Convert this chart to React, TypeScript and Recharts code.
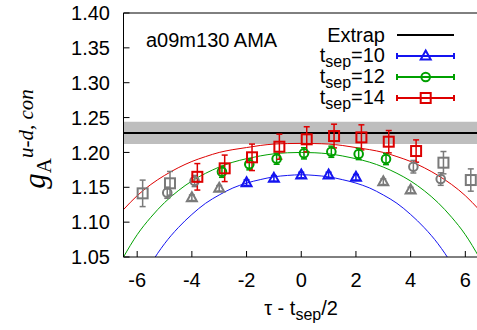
import React from 'react';
import {
  ComposedChart, Line, Scatter, XAxis, YAxis, ErrorBar,
  ReferenceArea, ReferenceLine, Legend, Customized,
} from 'recharts';

// ---------- data ----------
const xTicks = [-6, -4, -2, 0, 2, 4, 6];
const yTicks = [1.05, 1.1, 1.15, 1.2, 1.25, 1.3, 1.35, 1.4];

const extrapValue = 1.228;
const extrapErr = 0.016;

// t_sep = 10 (fit region and excluded points)
const t10X = [-2, -1, 0, 1, 2];
const t10Y = [1.1566, 1.1628, 1.1676, 1.1676, 1.1643];
const t10E = [0.004, 0.004, 0.004, 0.004, 0.004];
const t10GrayX = [-4, -3, 3, 4];
const t10GrayY = [1.135, 1.1485, 1.158, 1.146];
const t10GrayE = [0.004, 0.004, 0.004, 0.004];

// t_sep = 12
const t12X = [-2.9, -1.9, -0.9, 0.1, 1.1, 2.1, 3.1];
const t12Y = [1.1723, 1.183, 1.191, 1.1987, 1.201, 1.1977, 1.1905];
const t12E = [0.008, 0.008, 0.008, 0.008, 0.008, 0.008, 0.008];
const t12GrayX = [-4.9, -3.9, 4.1, 5.1];
const t12GrayY = [1.1422, 1.159, 1.1795, 1.1618];
const t12GrayE = [0.008, 0.008, 0.009, 0.009];

// t_sep = 14
const t14X = [-3.8, -2.8, -1.8, -0.8, 0.2, 1.2, 2.2, 3.2, 4.2];
const t14Y = [1.165, 1.1772, 1.193, 1.2082, 1.2188, 1.2235, 1.2216, 1.2154, 1.202];
const t14E = [0.019, 0.019, 0.019, 0.018, 0.018, 0.017, 0.018, 0.016, 0.016];
const t14GrayX = [-5.8, -4.8, 5.2, 6.2];
const t14GrayY = [1.1413, 1.1557, 1.1853, 1.1604];
const t14GrayE = [0.019, 0.017, 0.016, 0.016];

// fit curves
const fitX = [-6.5, -6, -5.5, -5, -4.5, -4, -3.5, -3, -2.5, -2, -1.5, -1, -0.5, 0,
  0.5, 1, 1.5, 2, 2.5, 3, 3.5, 4, 4.5, 5, 5.5, 6, 6.5];
const fit10 = [0.960, 1.004, 1.040, 1.069, 1.092, 1.111, 1.127, 1.139, 1.149, 1.156, 1.161, 1.165, 1.167, 1.168,
  1.167, 1.165, 1.161, 1.156, 1.149, 1.139, 1.127, 1.111, 1.092, 1.069, 1.040, 1.004, 0.960];
const fit12 = [1.050, 1.082, 1.107, 1.128, 1.145, 1.159, 1.170, 1.179, 1.186, 1.191, 1.195, 1.198, 1.1995, 1.200,
  1.1995, 1.198, 1.195, 1.191, 1.186, 1.179, 1.170, 1.159, 1.145, 1.128, 1.107, 1.082, 1.050];
const fit14 = [1.118, 1.138, 1.154, 1.167, 1.178, 1.187, 1.194, 1.200, 1.204, 1.207, 1.210, 1.212, 1.2127, 1.213,
  1.2127, 1.212, 1.210, 1.207, 1.204, 1.200, 1.194, 1.187, 1.178, 1.167, 1.154, 1.138, 1.118];

// ---------- helpers ----------
const pts = (xs: number[], ys: number[], es: number[]) =>
  xs.map((x, i) => ({ x, y: ys[i], err: es[i] }));
const curve = (xs: number[], ys: number[]) => xs.map((x, i) => ({ x, y: ys[i] }));

const BLUE = '#1414f0';
const GREEN = '#00a000';
const RED = '#dd0000';
const GRAY = '#7a7a7a';
const FONT = 'Liberation Sans, Arial, Helvetica, sans-serif';

const triangle = (color: string) => (p: any) => {
  const { cx, cy } = p;
  return (
    <polygon
      points={`${cx},${cy - 5.5} ${cx + 5},${cy + 3.5} ${cx - 5},${cy + 3.5}`}
      fill="none" stroke={color} strokeWidth={2}
    />
  );
};
const circle = (color: string) => (p: any) => {
  const { cx, cy } = p;
  return <circle cx={cx} cy={cy} r={4.3} fill="none" stroke={color} strokeWidth={2} />;
};
const square = (color: string) => (p: any) => {
  const { cx, cy } = p;
  return <rect x={cx - 5} y={cy - 5} width={10} height={10} fill="none" stroke={color} strokeWidth={2} />;
};

const legendRows = [
  { label: '10', color: BLUE, marker: 'tri' },
  { label: '12', color: GREEN, marker: 'circ' },
  { label: '14', color: RED, marker: 'sq' },
];

const LegendContent = () => {
  const lx1 = 117, lx2 = 174, mx = 145.7;
  return (
    <svg width={190} height={95} style={{ display: 'block', overflow: 'visible' }}>
      <text x={105} y={22} textAnchor="end" fontSize={20} fontFamily={FONT} fill="#000">Extrap</text>
      <line x1={lx1} x2={lx2} y1={15} y2={15} stroke="#000" strokeWidth={2} />
      {legendRows.map((r, i) => {
        const base = 42 + i * 21;
        const sy = base - 6;
        return (
          <g key={r.label}>
            <text x={105} y={base} textAnchor="end" fontSize={20} fontFamily={FONT} fill="#000">
              t<tspan fontSize={16} dy={5}>sep</tspan><tspan dy={-5}>={r.label}</tspan>
            </text>
            <line x1={lx1} x2={lx2} y1={sy} y2={sy} stroke={r.color} strokeWidth={2} />
            <line x1={lx1} x2={lx1} y1={sy - 3} y2={sy + 3} stroke={r.color} strokeWidth={2} />
            <line x1={lx2} x2={lx2} y1={sy - 3} y2={sy + 3} stroke={r.color} strokeWidth={2} />
            {r.marker === 'tri' && triangle(r.color)({ cx: mx, cy: sy })}
            {r.marker === 'circ' && circle(r.color)({ cx: mx, cy: sy })}
            {r.marker === 'sq' && square(r.color)({ cx: mx, cy: sy })}
          </g>
        );
      })}
    </svg>
  );
};

const Labels = () => (
  <g>
    <text x={146} y={47} fontSize={20} fontFamily={FONT} fill="#000">a09m130 AMA</text>
    <text x={301} y={315} textAnchor="middle" fontSize={20} fontFamily={FONT} fill="#000">
      τ - t<tspan fontSize={16} dy={5}>sep</tspan><tspan dy={-5}>/2</tspan>
    </text>
    <text
      transform="translate(45,139) rotate(-90)" x={0} y={0} textAnchor="middle"
      fontFamily="Liberation Serif, Times New Roman, serif" fill="#000"
    >
      <tspan fontStyle="italic" fontSize={31}>g</tspan>
      <tspan fontSize={21} dy={6}>A</tspan>
      <tspan fontStyle="italic" fontSize={21} dy={-18}>u-d, con</tspan>
    </text>
  </g>
);

export default function App() {
  const tickStyle = { fontSize: 20, fill: '#000', fontFamily: FONT };
  return (
    <div style={{ position: 'absolute', left: 0, top: 0, width: 477, height: 330, overflow: 'hidden', background: '#fff' }}>
      <ComposedChart width={490} height={330} margin={{ top: 12, right: 10, bottom: 0, left: 0.5 }}>
        <XAxis
          dataKey="x" type="number" domain={[-6.5, 6.5]} allowDataOverflow ticks={xTicks}
          height={73} tick={tickStyle} tickSize={-6} tickMargin={22}
          axisLine={{ stroke: '#000' }} tickLine={{ stroke: '#000' }}
        />
        <XAxis
          xAxisId="t" orientation="top" type="number" domain={[-6.5, 6.5]} allowDataOverflow ticks={xTicks}
          height={1} tick={false} tickSize={-6}
          axisLine={{ stroke: '#000' }} tickLine={{ stroke: '#000' }}
        />
        <YAxis
          dataKey="y" type="number" domain={[1.05, 1.4]} allowDataOverflow ticks={yTicks}
          width={123} tick={tickStyle} tickSize={-6} tickMargin={19.5}
          tickFormatter={(v: number) => v.toFixed(2)}
          axisLine={{ stroke: '#000' }} tickLine={{ stroke: '#000' }}
        />
        <YAxis
          yAxisId="r" orientation="right" type="number" domain={[1.05, 1.4]} allowDataOverflow ticks={yTicks}
          width={1} tick={false} tickSize={-6}
          axisLine={{ stroke: '#000' }} tickLine={{ stroke: '#000' }}
        />
        <ReferenceArea
          x1={-6.5} x2={6.5} y1={extrapValue - extrapErr} y2={extrapValue + extrapErr}
          fill="#bebebe" fillOpacity={1} stroke="none" ifOverflow="hidden"
        />
        <ReferenceLine y={extrapValue} stroke="#000" strokeWidth={2} />

        <Line data={curve(fitX, fit10)} dataKey="y" type="monotone" stroke={BLUE} strokeWidth={1} dot={false} isAnimationActive={false} />
        <Line data={curve(fitX, fit12)} dataKey="y" type="monotone" stroke={GREEN} strokeWidth={1} dot={false} isAnimationActive={false} />
        <Line data={curve(fitX, fit14)} dataKey="y" type="monotone" stroke={RED} strokeWidth={1} dot={false} isAnimationActive={false} />

        <Scatter data={pts(t10GrayX, t10GrayY, t10GrayE)} dataKey="y" shape={triangle(GRAY)} isAnimationActive={false}>
          <ErrorBar dataKey="err" direction="y" width={3} stroke={GRAY} strokeWidth={1.5} />
        </Scatter>
        <Scatter data={pts(t12GrayX, t12GrayY, t12GrayE)} dataKey="y" shape={circle(GRAY)} isAnimationActive={false}>
          <ErrorBar dataKey="err" direction="y" width={3} stroke={GRAY} strokeWidth={1.5} />
        </Scatter>
        <Scatter data={pts(t14GrayX, t14GrayY, t14GrayE)} dataKey="y" shape={square(GRAY)} isAnimationActive={false}>
          <ErrorBar dataKey="err" direction="y" width={3} stroke={GRAY} strokeWidth={1.5} />
        </Scatter>
        <Scatter data={pts(t10X, t10Y, t10E)} dataKey="y" shape={triangle(BLUE)} isAnimationActive={false}>
          <ErrorBar dataKey="err" direction="y" width={3} stroke={BLUE} strokeWidth={1.5} />
        </Scatter>
        <Scatter data={pts(t12X, t12Y, t12E)} dataKey="y" shape={circle(GREEN)} isAnimationActive={false}>
          <ErrorBar dataKey="err" direction="y" width={3} stroke={GREEN} strokeWidth={1.5} />
        </Scatter>
        <Scatter data={pts(t14X, t14Y, t14E)} dataKey="y" shape={square(RED)} isAnimationActive={false}>
          <ErrorBar dataKey="err" direction="y" width={3} stroke={RED} strokeWidth={1.5} />
        </Scatter>

        <Legend
          layout="vertical" align="center" verticalAlign="middle"
          content={() => <LegendContent />}
          wrapperStyle={{ left: 280, top: 20, width: 190, height: 95 }}
        />
        <Customized component={Labels} />
      </ComposedChart>
    </div>
  );
}
